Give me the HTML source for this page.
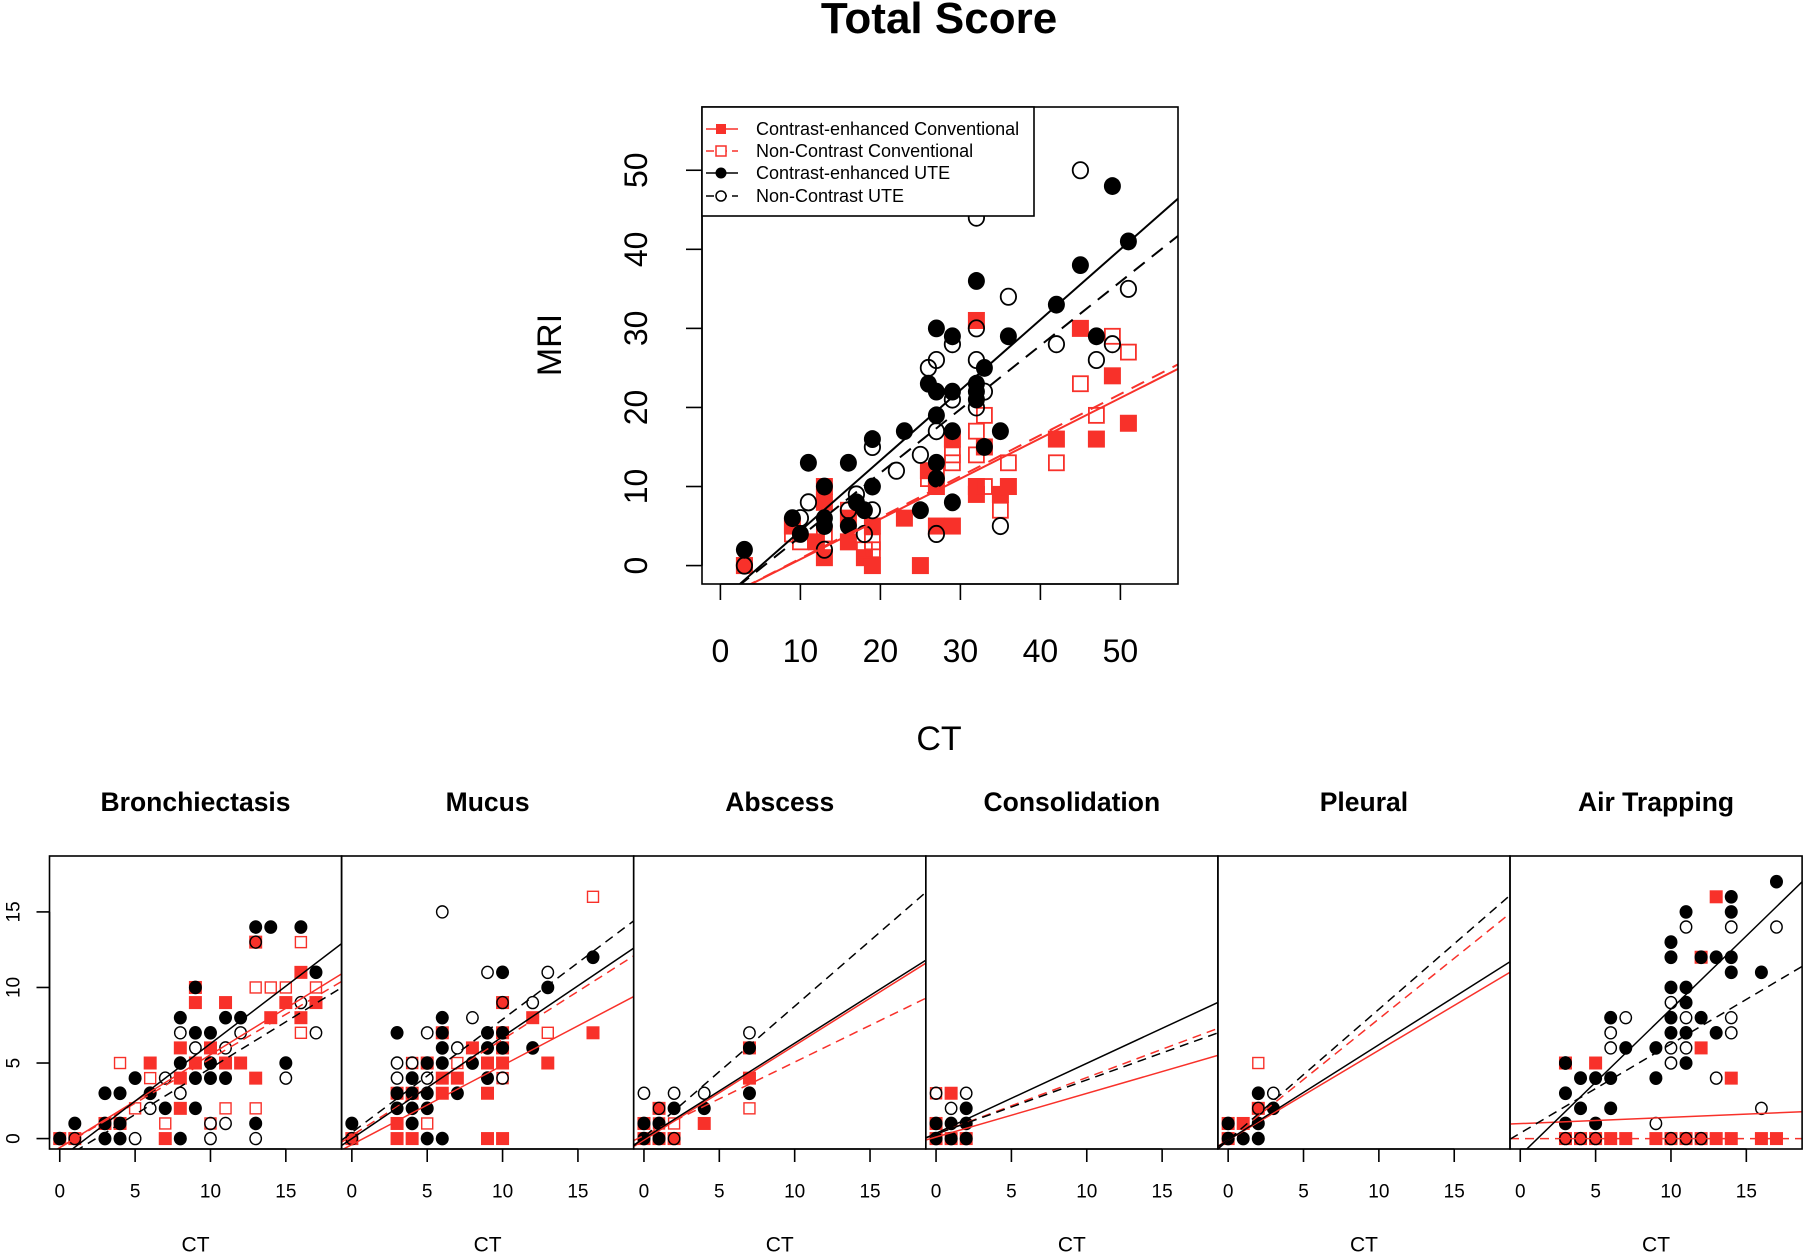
<!DOCTYPE html>
<html><head><meta charset="utf-8"><style>
html,body{margin:0;padding:0;background:#fff;}
svg{display:block;font-family:"Liberation Sans",Arial,sans-serif;}
</style></head><body>
<svg id="chart" width="1805" height="1254" viewBox="0 0 1805 1254" xmlns="http://www.w3.org/2000/svg">
<text x="939" y="33" text-anchor="middle" font-size="44" font-weight="bold">Total Score</text>
</svg>
<script>
// ---------- Total Score data ----------
const totalCEConv=[[3,0],[9,5],[12,3],[13,10],[13,8],[13,1],[16,6],[16,3],[18,1],[19,0],[19,5],[23,6],[25,0],[26,12],[27,10],[27,5],[29,5],[29,16],[32,31],[32,10],[32,9],[33,15],[35,9],[36,10],[42,16],[45,30],[47,16],[49,24],[51,18]];
const totalNCConv=[[3,0],[9,4],[10,3],[13,4],[16,7],[18,2],[19,3],[19,2],[26,11],[27,12],[29,14],[29,13],[32,17],[32,14],[33,19],[33,10],[35,7],[36,13],[42,13],[45,23],[47,19],[49,29],[51,27]];
const totalCEUTE=[[3,2],[9,6],[10,4],[11,13],[13,10],[13,6],[13,5],[16,13],[16,5],[17,8],[18,7],[19,10],[19,16],[23,17],[25,7],[26,23],[27,30],[27,22],[27,19],[27,13],[27,11],[29,29],[29,22],[29,17],[29,8],[32,36],[32,23],[32,22],[32,21],[33,25],[33,15],[35,17],[36,29],[42,33],[45,38],[47,29],[49,48],[51,41]];
const totalNCUTE=[[3,0],[10,6],[11,8],[13,2],[16,7],[17,9],[18,4],[19,7],[19,15],[22,12],[25,14],[26,25],[27,26],[27,17],[27,4],[29,28],[29,21],[32,44],[32,30],[32,26],[32,20],[33,22],[35,5],[36,34],[42,28],[45,50],[47,26],[49,28],[51,35]];
// regression lines: [intercept, slope] for CEConv, NCConv, CEUTE, NCUTE
const totalFits=[[-4.3,0.51],[-4.3,0.52],[-4.5,0.89],[-4.4,0.806]];
const totalTicks=[0,10,20,30,40,50];

// ---------- Panel data ----------
const panelTitles=["Bronchiectasis","Mucus","Abscess","Consolidation","Pleural","Air Trapping"];
const panelTicks=[0,5,10,15];
const bronCEConv=[[0,0],[1,0],[3,1],[4,1],[6,5],[7,0],[8,6],[8,4],[8,2],[9,10],[9,9],[9,5],[10,6],[11,9],[11,5],[12,5],[13,13],[13,4],[14,8],[15,9],[16,11],[16,8],[17,9]];
const bronNCConv=[[4,5],[5,2],[6,4],[7,1],[10,1],[11,2],[13,2],[13,10],[14,10],[15,10],[16,13],[16,7],[17,10]];
const bronCEUTE=[[0,0],[1,1],[3,3],[3,1],[3,0],[4,3],[4,1],[4,0],[5,4],[6,3],[7,2],[8,8],[8,5],[8,0],[9,10],[9,7],[9,4],[9,2],[10,7],[10,5],[10,4],[11,8],[11,4],[12,8],[13,14],[13,1],[14,14],[16,14],[15,5],[17,11]];
const bronNCUTE=[[1,0],[5,0],[6,2],[7,4],[8,7],[8,3],[9,6],[10,1],[10,0],[11,6],[11,1],[12,7],[13,13],[13,0],[15,4],[16,9],[17,7]];
const bronFits=[[-0.6,0.615],[-0.6,0.588],[-1.33,0.761],[-1.47,0.613]];
const mucCEConv=[[0,0],[3,3],[3,1],[3,0],[4,0],[4,3],[5,5],[6,4],[6,7],[6,3],[7,4],[8,6],[9,5],[9,3],[9,0],[10,0],[10,9],[10,7],[10,6],[10,5],[12,8],[13,5],[16,7]];
const mucNCConv=[[4,5],[5,1],[7,5],[10,4],[13,7],[16,16]];
const mucCEUTE=[[0,1],[3,7],[3,3],[3,2],[4,4],[4,3],[4,2],[4,1],[5,5],[5,3],[5,2],[5,0],[6,8],[6,7],[6,6],[6,5],[6,0],[7,3],[8,5],[9,7],[9,6],[9,4],[10,11],[10,7],[10,6],[12,6],[13,10],[16,12]];
const mucNCUTE=[[0,0],[3,5],[3,4],[4,5],[5,7],[5,4],[6,15],[7,6],[8,8],[9,11],[10,4],[10,9],[12,9],[13,11]];
const mucFits=[[-0.4,0.524],[0.2,0.636],[0,0.674],[0.4,0.749]];
const absCEConv=[[0,0],[0,1],[1,2],[1,0],[2,0],[4,1],[7,6],[7,4]];
const absNCConv=[[2,1],[7,2],[1,1]];
const absCEUTE=[[0,0],[0,1],[1,1],[1,0],[2,2],[4,2],[7,6],[7,3]];
const absNCUTE=[[0,3],[2,3],[4,3],[7,7],[1,2],[2,0]];
const absFits=[[-0.1,0.626],[0.2,0.486],[0,0.631],[0.1,0.866]];
const conCEConv=[[0,0],[0,1],[1,0],[2,0],[1,3]];
const conNCConv=[[0,3]];
const conCEUTE=[[0,0],[0,1],[1,0],[1,1],[2,0],[2,1],[2,2]];
const conNCUTE=[[0,3],[1,2],[2,3]];
const conFits=[[0.1,0.289],[0.3,0.374],[0.35,0.463],[0.3,0.358]];
const pleCEConv=[[0,0],[0,1],[1,1],[2,2]];
const pleNCConv=[[2,5]];
const pleCEUTE=[[0,0],[0,1],[1,0],[2,0],[2,1],[2,3],[3,2]];
const pleNCUTE=[[3,3],[2,2]];
const pleFits=[[-0.1,0.594],[-0.1,0.802],[-0.1,0.631],[-0.1,0.866]];
const airCEConv=[[3,0],[4,0],[5,0],[6,0],[7,0],[9,0],[10,0],[11,0],[12,0],[13,0],[14,0],[16,0],[17,0],[3,5],[5,5],[12,12],[13,16],[12,6],[14,4]];
const airNCConv=[];
const airCEUTE=[[3,5],[3,3],[3,1],[4,4],[4,2],[5,4],[5,1],[6,8],[6,4],[6,2],[7,6],[9,6],[9,4],[10,13],[10,12],[10,10],[10,8],[10,7],[11,15],[11,10],[11,9],[11,7],[11,5],[12,12],[12,8],[13,12],[13,7],[14,16],[14,15],[14,12],[14,11],[16,11],[17,17]];
const airNCUTE=[[3,5],[3,0],[4,0],[5,0],[6,7],[6,6],[7,8],[9,1],[10,9],[10,6],[10,5],[10,0],[11,14],[11,8],[11,6],[11,0],[12,0],[13,4],[14,14],[14,8],[14,7],[16,2],[17,14]];
const airFits=[[0.99,0.042],[0,0],[-1.11,0.968],[0.36,0.59]];

const RED="#f8312a";
const NS="http://www.w3.org/2000/svg";
const svg=document.getElementById('chart');
function mk(tag,attrs,parent){const e=document.createElementNS(NS,tag);for(const k in attrs)e.setAttribute(k,attrs[k]);(parent||svg).appendChild(e);return e;}

function drawPlot(o){
  const g=mk('g',{});
  
  
  const sx=v=>o.L+(v-o.xlim[0])/(o.xlim[1]-o.xlim[0])*(o.R-o.L);
  const sy=v=>o.B-(v-o.ylim[0])/(o.ylim[1]-o.ylim[0])*(o.B-o.T);
  const cid='clip-'+o.name;
  const cp=mk('clipPath',{id:cid},g);
  mk('rect',{x:o.L,y:o.T,width:o.R-o.L,height:o.B-o.T},cp);
  const series=[[o.s[0],'sq-fill'],[o.s[1],'sq-open'],[o.s[2],'ci-fill'],[o.s[3],'ci-open']];
  const r=o.r;
  series.forEach(([pts,kind])=>{
    pts.forEach(p=>{
      const x=sx(p[0]),y=sy(p[1]);let e;
      if(kind==='sq-fill'){e=mk('rect',{x:x-r,y:y-r,width:2*r,height:2*r,fill:RED},g);}
      else if(kind==='sq-open'){e=mk('rect',{x:x-r+1,y:y-r+1,width:2*r-2,height:2*r-2,fill:'none',stroke:RED,'stroke-width':o.sw},g);}
      else if(kind==='ci-fill'){e=mk('ellipse',{cx:x,cy:y,rx:r,ry:r*1.05,fill:'#000'},g);}
      else {e=mk('ellipse',{cx:x,cy:y,rx:r-0.8,ry:r*1.05-0.8,fill:'none',stroke:'#000','stroke-width':o.sw},g);}
      
    });
  });
  const styles=[[RED,null],[RED,o.dash],['#000',null],['#000',o.dash]];
  const lnames=['fit-contrast-conventional','fit-noncontrast-conventional','fit-contrast-ute','fit-noncontrast-ute'];
  o.fits.forEach((f,i)=>{
    const x0=o.xlim[0],x1=o.xlim[1];
    const a={x1:sx(x0),y1:sy(f[0]+f[1]*x0),x2:sx(x1),y2:sy(f[0]+f[1]*x1),stroke:styles[i][0],'stroke-width':o.lw,'clip-path':'url(#'+cid+')'};
    if(styles[i][1])a['stroke-dasharray']=styles[i][1];
    const l=mk('line',a,g);
    
    
  });
  const box=mk('rect',{x:o.L,y:o.T,width:o.R-o.L,height:o.B-o.T,fill:'none',stroke:'#000','stroke-width':1.6},g);
  
  
  const xa=mk('g',{},g);
  
  
  mk('line',{x1:sx(o.xticks[0]),x2:sx(o.xticks[o.xticks.length-1]),y1:o.B,y2:o.B,stroke:'#000','stroke-width':1.6},xa);
  o.xticks.forEach(t=>{
    mk('line',{x1:sx(t),x2:sx(t),y1:o.B,y2:o.B+o.tl,stroke:'#000','stroke-width':1.6},xa);
    const tx=mk('text',{x:sx(t),y:o.xlabY,'text-anchor':'middle','font-size':o.fs,'dominant-baseline':'central'},xa);
    tx.textContent=t;
    
    
  });
  if(o.yaxis){
    const ya=mk('g',{},g);
    
    
    mk('line',{x1:o.L,x2:o.L,y1:sy(o.yticks[0]),y2:sy(o.yticks[o.yticks.length-1]),stroke:'#000','stroke-width':1.6},ya);
    o.yticks.forEach(t=>{
      mk('line',{x1:o.L,x2:o.L-o.tl,y1:sy(t),y2:sy(t),stroke:'#000','stroke-width':1.6},ya);
      const tx=mk('text',{x:o.ylabX,y:sy(t),'text-anchor':'middle','font-size':o.fs,'dominant-baseline':'central',transform:'rotate(-90 '+o.ylabX+' '+sy(t)+')'},ya);
      tx.textContent=t;
      
      
    });
  }
  return {g,sx,sy};
}

drawPlot({name:'total-score-plot',L:702,R:1178,T:107,B:584,xlim:[-2.3,57.2],ylim:[-2.33,58.0],
  s:[totalCEConv,totalNCConv,totalCEUTE,totalNCUTE],fits:totalFits,r:8.5,sw:1.8,lw:2,dash:'14,9',
  xticks:totalTicks,yticks:totalTicks,tl:16,fs:32,xlabY:651,yaxis:true,ylabX:636});
let t=mk('text',{x:939,y:739,'text-anchor':'middle','dominant-baseline':'central','font-size':34});
t.textContent='CT';


t=mk('text',{x:550,y:345,'text-anchor':'middle','dominant-baseline':'central','font-size':34,transform:'rotate(-90 550 345)'});
t.textContent='MRI';



const lg=mk('g',{});


mk('rect',{x:702,y:107,width:332,height:109,fill:'#fff',stroke:'#000','stroke-width':1.6},lg);
const legLabels=['Contrast-enhanced Conventional','Non-Contrast Conventional','Contrast-enhanced UTE','Non-Contrast UTE'];
const legY=[129,151,173,196];
legLabels.forEach((lab,i)=>{
  const y=legY[i];
  const col=i<2?RED:'#000';
  const ln=mk('line',{x1:706,x2:738,y1:y,y2:y,stroke:col,'stroke-width':1.6},lg);
  if(i%2===1)ln.setAttribute('stroke-dasharray','8,5');
  if(i===0)mk('rect',{x:716,y:y-5,width:10,height:10,fill:RED},lg);
  if(i===1)mk('rect',{x:716,y:y-5,width:10,height:10,fill:'#fff',stroke:RED,'stroke-width':1.5},lg);
  if(i===2)mk('circle',{cx:721,cy:y,r:5.5,fill:'#000'},lg);
  if(i===3)mk('circle',{cx:721,cy:y,r:5,fill:'#fff',stroke:'#000','stroke-width':1.5},lg);
  const tx=mk('text',{x:756,y:y,'font-size':18,'dominant-baseline':'central'},lg);
  tx.textContent=lab;
  
  
});

const panelSeries=[[bronCEConv,bronNCConv,bronCEUTE,bronNCUTE],[mucCEConv,mucNCConv,mucCEUTE,mucNCUTE],[absCEConv,absNCConv,absCEUTE,absNCUTE],[conCEConv,conNCConv,conCEUTE,conNCUTE],[pleCEConv,pleNCConv,pleCEUTE,pleNCUTE],[airCEConv,airNCConv,airCEUTE,airNCUTE]];
const panelFits=[bronFits,mucFits,absFits,conFits,pleFits,airFits];
const PW=292.1;
panelTitles.forEach((title,i)=>{
  const L=49.5+i*PW;
  drawPlot({name:'panel-'+title.toLowerCase().replace(/ /g,'-'),L:L,R:L+PW,T:856,B:1149,xlim:[-0.68,18.7],ylim:[-0.69,18.7],
    s:panelSeries[i],fits:panelFits[i],r:6.5,sw:1.4,lw:1.5,dash:'9,6',
    xticks:panelTicks,yticks:panelTicks,tl:13,fs:19,xlabY:1192,yaxis:i===0,ylabX:14});
  let tt=mk('text',{x:L+PW/2,y:802,'text-anchor':'middle','dominant-baseline':'central','font-size':26.5,'font-weight':'bold'});
  tt.textContent=title;
  
  
  tt=mk('text',{x:L+PW/2,y:1245,'text-anchor':'middle','dominant-baseline':'central','font-size':21});
  tt.textContent='CT';
  
  
});
</script>
</body></html>
